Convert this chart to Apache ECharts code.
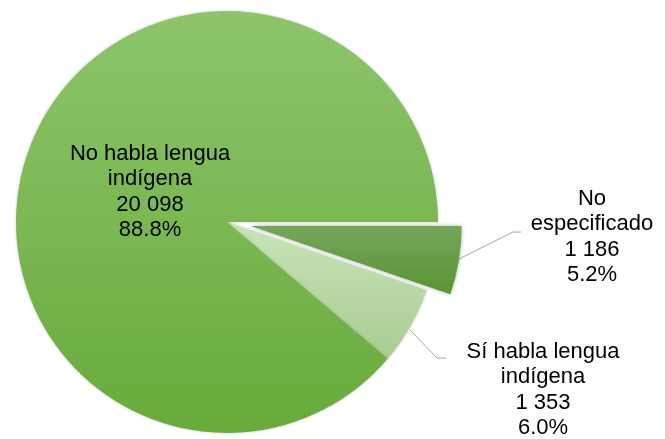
<!DOCTYPE html>
<html>
<head>
<meta charset="utf-8">
<script src="https://cdn.jsdelivr.net/npm/echarts@6/dist/echarts.min.js"></script>
<style>html,body{margin:0;padding:0;background:#fff;}#c{width:665px;height:439px;}</style>
</head>
<body>
<div id="c"></div>
<script>
const categories = ['No especificado', 'Sí habla lengua indígena', 'No habla lengua indígena'];
const labelNames = ['No\nespecificado', 'Sí habla lengua\nindígena', 'No habla lengua\nindígena'];
const values = [1186, 1353, 20098];
const valueTexts = ['1 186', '1 353', '20 098'];
const percentTexts = ['5.2%', '6.0%', '88.8%'];

const grads = [
  ['#74A65A', '#5A9434'],
  ['#C9E4BA', '#A8CC92'],
  ['#8CC56B', '#68AB3B']
];
function grad(i) {
  return new echarts.graphic.LinearGradient(0, 0, 0, 1, [
    { offset: 0, color: grads[i][0] },
    { offset: 1, color: grads[i][1] }
  ]);
}
// layout settings
const cx = 227, cy = 222, R = 211, explode = 24;
const labelPos = [
  { x: 592, y: 237 },
  { x: 543, y: 390 },
  { x: 150, y: 192 }
];
const linePts = [
  [[459, 259], [513, 232], [521, 232]],
  [[410, 330], [437, 358], [446, 358]],
  null
];

const total = values.reduce((a, b) => a + b, 0);
const sweep0 = 360 * values[0] / total;      // angle of exploded slice
const midRad = (sweep0 / 2) * Math.PI / 180;
const dx = explode * Math.cos(midRad), dy = explode * Math.sin(midRad);

const labelCommon = {
  formatter: p => {
    const i = categories.indexOf(p.name);
    return labelNames[i] + '\n' + valueTexts[i] + '\n' + percentTexts[i];
  },
  fontFamily: 'Liberation Sans, Arial, sans-serif',
  fontSize: 22,
  lineHeight: 25.5,
  color: '#000',
  align: 'center',
  overflow: 'none',
  alignTo: 'none'
};
function layoutFn(p) {
  const i = categories.indexOf(p.text ? null : null);
  return null;
}
function makeLayout(p, i) {
  const res = { x: labelPos[i].x, y: labelPos[i].y, align: 'center', verticalAlign: 'middle' };
  if (linePts[i]) res.labelLinePoints = linePts[i];
  return res;
}

function item(i) {
  return {
    name: categories[i],
    value: values[i],
    itemStyle: { color: grad(i) },
    label: { position: i === 2 ? 'inside' : 'outside' },
    labelLine: { show: i !== 2 }
  };
}

const chart = echarts.init(document.getElementById('c'));
chart.setOption({
  animation: false,
  series: [
    {
      type: 'pie',
      center: [cx, cy],
      radius: R,
      startAngle: -sweep0,
      endAngle: -360,
      clockwise: true,
      avoidLabelOverlap: false,
      data: [item(1), item(2)],
      itemStyle: { borderWidth: 0, shadowBlur: 3, shadowColor: 'rgba(0,0,0,0.2)' },
      label: labelCommon,
      labelLine: { length: 30, length2: 8, lineStyle: { color: '#a6a6a6', width: 1 } },
      labelLayout: p => makeLayout(p, p.dataIndex + 1)
    },
    {
      type: 'pie',
      center: [cx + dx, cy + dy],
      radius: R,
      startAngle: 0,
      endAngle: -sweep0,
      clockwise: true,
      avoidLabelOverlap: false,
      data: [item(0)],
      itemStyle: { borderWidth: 0, shadowBlur: 4, shadowColor: 'rgba(0,0,0,0.3)' },
      label: labelCommon,
      labelLine: { length: 30, length2: 8, lineStyle: { color: '#a6a6a6', width: 1 } },
      labelLayout: p => makeLayout(p, 0)
    }
  ]
});
</script>
</body>
</html>
